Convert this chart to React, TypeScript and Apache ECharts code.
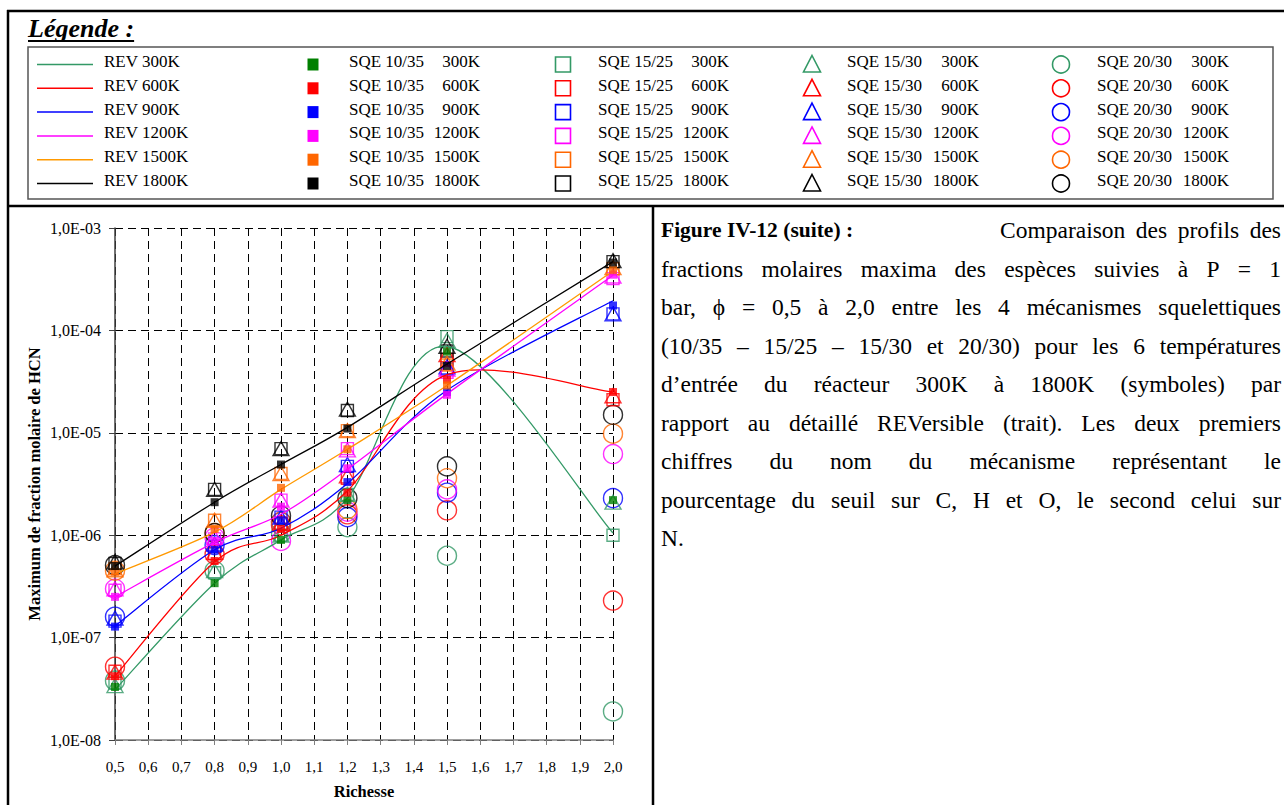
import React, { useEffect, useRef } from "react";
import * as echarts from "echarts";

// ---------- DATA ----------
const richesse = [0.5, 0.8, 1.0, 1.2, 1.5, 2.0];
const temperatures = ["300K", "600K", "900K", "1200K", "1500K", "1800K"];
const mechanisms = ["10/35", "15/25", "15/30", "20/30"];

// REV (detailed mechanism) - lines
const rev300 = [3.1e-8, 3.4e-7, 9.0e-7, 2.3e-6, 7.0e-5, 1.05e-6];
const rev600 = [4.2e-8, 5.5e-7, 1.0e-6, 2.7e-6, 3.7e-5, 2.5e-5];
const rev900 = [1.3e-7, 7.2e-7, 1.17e-6, 3.2e-6, 2.6e-5, 1.95e-4];
const rev1200 = [2.5e-7, 8.5e-7, 1.6e-6, 4.4e-6, 2.4e-5, 3.45e-4];
const rev1500 = [4.2e-7, 1.07e-6, 2.8e-6, 6.9e-6, 2.9e-5, 3.8e-4];
const rev1800 = [5.0e-7, 2.1e-6, 4.9e-6, 1.13e-5, 4.7e-5, 4.7e-4];

// SQE 10/35 - filled squares
const sqe1035_300 = [3.3e-8, 3.4e-7, 9.0e-7, 2.2e-6, 6.2e-5, 2.2e-6];
const sqe1035_600 = [4.2e-8, 5.6e-7, 1.15e-6, 2.6e-6, 3.3e-5, 2.5e-5];
const sqe1035_900 = [1.28e-7, 7.2e-7, 1.4e-6, 3.3e-6, 2.5e-5, 1.75e-4];
const sqe1035_1200 = [2.5e-7, 8.8e-7, 1.9e-6, 4.5e-6, 2.35e-5, 3.5e-4];
const sqe1035_1500 = [4.4e-7, 1.15e-6, 2.9e-6, 6.9e-6, 2.9e-5, 3.9e-4];
const sqe1035_1800 = [5.0e-7, 2.1e-6, 4.9e-6, 1.1e-5, 4.5e-5, 4.6e-4];

// SQE 15/25 - open squares
const sqe1525_300 = [3.6e-8, 4.3e-7, 1.0e-6, 2.5e-6, 8.7e-5, 1.0e-6];
const sqe1525_600 = [4.7e-8, 6.6e-7, 1.3e-6, 3.6e-6, 5.2e-5, 2.1e-5];
const sqe1525_900 = [1.45e-7, 7.8e-7, 1.5e-6, 4.7e-6, 4.2e-5, 1.45e-4];
const sqe1525_1200 = [2.9e-7, 9.2e-7, 2.2e-6, 7.0e-6, 3.9e-5, 3.2e-4];
const sqe1525_1500 = [4.7e-7, 1.4e-6, 4.0e-6, 1.05e-5, 4.6e-5, 4.0e-4];
const sqe1525_1800 = [5.3e-7, 2.8e-6, 7.0e-6, 1.65e-5, 6.3e-5, 4.7e-4];

// SQE 15/30 - open triangles
const sqe1530_300 = [3.4e-8, 4.5e-7, 1.0e-6, 2.5e-6, 8.0e-5, 2.1e-6];
const sqe1530_600 = [4.6e-8, 6.8e-7, 1.3e-6, 3.8e-6, 5.8e-5, 2.3e-5];
const sqe1530_900 = [1.55e-7, 8.2e-7, 1.5e-6, 4.9e-6, 4.4e-5, 1.45e-4];
const sqe1530_1200 = [3.0e-7, 9.5e-7, 2.2e-6, 6.8e-6, 4.2e-5, 3.4e-4];
const sqe1530_1500 = [4.6e-7, 1.4e-6, 4.0e-6, 1.05e-5, 4.8e-5, 4.1e-4];
const sqe1530_1800 = [5.5e-7, 2.8e-6, 7.0e-6, 1.7e-5, 7.0e-5, 4.8e-4];

// SQE 20/30 - open circles
const sqe2030_300 = [3.8e-8, 4.5e-7, 1.05e-6, 1.2e-6, 6.3e-7, 1.9e-8];
const sqe2030_600 = [5.2e-8, 6.5e-7, 1.25e-6, 1.6e-6, 1.75e-6, 2.3e-7];
const sqe2030_900 = [1.6e-7, 8.0e-7, 1.35e-6, 1.5e-6, 2.6e-6, 2.3e-6];
const sqe2030_1200 = [3.0e-7, 9.5e-7, 8.8e-7, 1.7e-6, 2.8e-6, 6.2e-6];
const sqe2030_1500 = [4.5e-7, 1.05e-6, 1.35e-6, 1.8e-6, 3.6e-6, 9.8e-6];
const sqe2030_1800 = [5.1e-7, 1.05e-6, 1.55e-6, 2.3e-6, 4.7e-6, 1.5e-5];

const revSeries = [rev300, rev600, rev900, rev1200, rev1500, rev1800];
const sqe1035 = [sqe1035_300, sqe1035_600, sqe1035_900, sqe1035_1200, sqe1035_1500, sqe1035_1800];
const sqe1525 = [sqe1525_300, sqe1525_600, sqe1525_900, sqe1525_1200, sqe1525_1500, sqe1525_1800];
const sqe1530 = [sqe1530_300, sqe1530_600, sqe1530_900, sqe1530_1200, sqe1530_1500, sqe1530_1800];
const sqe2030 = [sqe2030_300, sqe2030_600, sqe2030_900, sqe2030_1200, sqe2030_1500, sqe2030_1800];

const xAxisTitle = "Richesse";
const yAxisTitle = "Maximum de fraction molaire de HCN";
const legendTitle = "Légende :";

const captionBold = "Figure IV-12 (suite) :";
const captionLines = [
  "Comparaison des profils des",
  "fractions molaires maxima des espèces suivies à P = 1",
  "bar, ϕ = 0,5 à 2,0 entre les 4 mécanismes squelettiques",
  "(10/35 – 15/25 – 15/30 et 20/30) pour les 6 températures",
  "d’entrée du réacteur 300K à 1800K (symboles) par",
  "rapport au détaillé REVersible (trait). Les deux premiers",
  "chiffres du nom du mécanisme représentant le",
  "pourcentage du seuil sur C, H et O, le second celui sur",
  "N.",
];

// ---------- STYLE ----------
const lineColors = ["#339966", "#FF0000", "#0000FF", "#FF00FF", "#FF9900", "#000000"];
const openColors = ["#339966", "#FF0000", "#0000FF", "#FF00FF", "#FF6600", "#000000"];
const filledColors = ["#008000", "#FF0000", "#0000FF", "#FF00FF", "#FF6600", "#000000"];
const SERIF = "'Liberation Serif', 'Times New Roman', serif";

let measureCtx: CanvasRenderingContext2D | null = null;
function textWidth(t: string, font: string) {
  if (!measureCtx) measureCtx = document.createElement("canvas").getContext("2d");
  measureCtx!.font = font;
  return measureCtx!.measureText(t).width;
}

function justified(line: string, font: string, x0: number, x1: number, y: number) {
  const words = line.split(" ");
  const widths = words.map((w) => textWidth(w, font));
  const total = widths.reduce((a, b) => a + b, 0);
  const gap = words.length > 1 ? (x1 - x0 - total) / (words.length - 1) : 0;
  let x = x0;
  return words.map((w, i) => {
    const el = {
      type: "text",
      x,
      y,
      style: { text: w, font, fill: "#000", align: "left", verticalAlign: "middle" },
    };
    x += widths[i] + gap;
    return el;
  });
}

function buildGraphic() {
  const g: any[] = [];
  const frame = { stroke: "#000", lineWidth: 2.5 };
  g.push({ type: "line", shape: { x1: 7, y1: 11, x2: 1284, y2: 11 }, style: frame });
  g.push({ type: "line", shape: { x1: 8, y1: 10, x2: 8, y2: 805 }, style: frame });
  g.push({ type: "line", shape: { x1: 7, y1: 206, x2: 1284, y2: 206 }, style: frame });
  g.push({ type: "line", shape: { x1: 653, y1: 206, x2: 653, y2: 805 }, style: frame });

  const titleFont = `italic bold 26px ${SERIF}`;
  g.push({
    type: "text",
    x: 28,
    y: 28,
    style: { text: legendTitle, font: titleFont, fill: "#000", verticalAlign: "middle" },
  });
  g.push({
    type: "line",
    shape: { x1: 28, y1: 41, x2: 28 + textWidth(legendTitle, titleFont), y2: 41 },
    style: { stroke: "#000", lineWidth: 2 },
  });
  g.push({
    type: "rect",
    shape: { x: 28, y: 47, width: 1245, height: 152 },
    style: { fill: "none", stroke: "#555", lineWidth: 1.5 },
  });

  const legFont = `17px ${SERIF}`;
  const colText = [104, 349, 598, 847, 1097];
  const colRight = [0, 480, 729, 979, 1229];
  const colMarker = [0, 313, 563, 812, 1061];
  for (let i = 0; i < 6; i++) {
    const ty = 61.5 + i * 23.8;
    const my = ty + 3;
    g.push({
      type: "line",
      shape: { x1: 37, y1: my, x2: 93, y2: my },
      style: { stroke: lineColors[i], lineWidth: 1.5 },
    });
    g.push({
      type: "text",
      x: colText[0],
      y: ty,
      style: { text: `REV ${temperatures[i]}`, font: legFont, fill: "#000", verticalAlign: "middle" },
    });
    for (let m = 0; m < 4; m++) {
      const c = m + 1;
      g.push({
        type: "text",
        x: colText[c],
        y: ty,
        style: { text: `SQE ${mechanisms[m]}`, font: legFont, fill: "#000", verticalAlign: "middle" },
      });
      g.push({
        type: "text",
        x: colRight[c],
        y: ty,
        style: { text: temperatures[i], font: legFont, fill: "#000", align: "right", verticalAlign: "middle" },
      });
      const cx = colMarker[c];
      if (m === 0) {
        g.push({
          type: "rect",
          shape: { x: cx - 5.5, y: my - 6, width: 11, height: 12 },
          style: { fill: filledColors[i], stroke: "none" },
        });
      } else if (m === 1) {
        g.push({
          type: "rect",
          shape: { x: cx - 7.5, y: my - 7.5, width: 15, height: 15 },
          style: { fill: "none", stroke: openColors[i], lineWidth: 1.6 },
        });
      } else if (m === 2) {
        g.push({
          type: "polygon",
          shape: { points: [[cx, my - 9], [cx + 8.5, my + 7.5], [cx - 8.5, my + 7.5]] },
          style: { fill: "none", stroke: openColors[i], lineWidth: 1.6 },
        });
      } else {
        g.push({
          type: "circle",
          shape: { cx, cy: my, r: 8.5 },
          style: { fill: "none", stroke: openColors[i], lineWidth: 1.6 },
        });
      }
    }
  }

  const capFont = `23.5px ${SERIF}`;
  const capBold = `bold 21.5px ${SERIF}`;
  const x0 = 661;
  const x1 = 1281;
  const lineY = (k: number) => 230 + k * 38.5;
  g.push({
    type: "text",
    x: x0,
    y: lineY(0),
    style: { text: captionBold, font: capBold, fill: "#000", verticalAlign: "middle" },
  });
  g.push(...justified(captionLines[0], capFont, 1000, x1, lineY(0)));
  for (let k = 1; k < captionLines.length - 1; k++) {
    g.push(...justified(captionLines[k], capFont, x0, x1, lineY(k)));
  }
  g.push({
    type: "text",
    x: x0,
    y: lineY(captionLines.length - 1),
    style: { text: captionLines[captionLines.length - 1], font: capFont, fill: "#000", verticalAlign: "middle" },
  });
  return g;
}

function pairs(vals: number[]) {
  return richesse.map((x, i) => [x, vals[i]]);
}

// Excel-like smoothed curve (Catmull-Rom) drawn through the library's coordinate system
function revCurve(i: number) {
  const data = pairs(revSeries[i]);
  return {
    name: `REV ${temperatures[i]}`,
    type: "custom",
    coordinateSystem: "cartesian2d",
    data,
    encode: { x: 0, y: 1 },
    z: 4,
    renderItem: (params: any, api: any) => {
      if (params.dataIndex !== 0) return null;
      const pts = data.map((d) => api.coord(d));
      let d = `M${pts[0][0]},${pts[0][1]}`;
      for (let k = 0; k < pts.length - 1; k++) {
        const p0 = pts[Math.max(k - 1, 0)];
        const p1 = pts[k];
        const p2 = pts[k + 1];
        const p3 = pts[Math.min(k + 2, pts.length - 1)];
        const c1 = [p1[0] + (p2[0] - p0[0]) / 6, p1[1] + (p2[1] - p0[1]) / 6];
        const c2 = [p2[0] - (p3[0] - p1[0]) / 6, p2[1] - (p3[1] - p1[1]) / 6];
        d += ` C${c1[0]},${c1[1]} ${c2[0]},${c2[1]} ${p2[0]},${p2[1]}`;
      }
      return {
        type: "path",
        shape: { pathData: d },
        style: { stroke: lineColors[i], fill: "none", lineWidth: 1.3 },
      };
    },
  };
}

function buildSeries() {
  const s: any[] = [];
  for (let i = 0; i < 6; i++) {
    s.push({
      name: `SQE 20/30 ${temperatures[i]}`,
      type: "scatter",
      data: pairs(sqe2030[i]),
      symbol: "circle",
      symbolSize: 19,
      itemStyle: { color: "rgba(0,0,0,0)", borderColor: openColors[i], borderWidth: 1.4 },
      z: 3,
    });
  }
  for (let i = 0; i < 6; i++) {
    s.push({
      name: `SQE 15/25 ${temperatures[i]}`,
      type: "scatter",
      data: pairs(sqe1525[i]),
      symbol: "rect",
      symbolSize: 12,
      itemStyle: { color: "rgba(0,0,0,0)", borderColor: openColors[i], borderWidth: 1.4 },
      z: 3,
    });
  }
  for (let i = 0; i < 6; i++) {
    s.push({
      name: `SQE 15/30 ${temperatures[i]}`,
      type: "scatter",
      data: pairs(sqe1530[i]),
      symbol: "triangle",
      symbolSize: [16, 14],
      itemStyle: { color: "rgba(0,0,0,0)", borderColor: openColors[i], borderWidth: 1.4 },
      z: 3,
    });
  }
  for (let i = 0; i < 6; i++) s.push(revCurve(i));
  for (let i = 0; i < 6; i++) {
    s.push({
      name: `SQE 10/35 ${temperatures[i]}`,
      type: "scatter",
      data: pairs(sqe1035[i]),
      symbol: "rect",
      symbolSize: 8,
      itemStyle: { color: filledColors[i] },
      z: 5,
    });
  }
  return s;
}

export default function App() {
  const ref = useRef<HTMLDivElement>(null);
  useEffect(() => {
    if (!ref.current) return;
    const chart = echarts.init(ref.current, null, { renderer: "svg" });
    chart.setOption({
      animation: false,
      backgroundColor: "#ffffff",
      grid: { left: 115, top: 228, width: 498, height: 520, containLabel: false },
      xAxis: {
        type: "value",
        min: 0.5,
        max: 2.0,
        interval: 0.1,
        name: xAxisTitle,
        nameLocation: "middle",
        nameGap: 43,
        nameTextStyle: { fontFamily: SERIF, fontSize: 16.5, fontWeight: "bold", color: "#000" },
        axisLine: { show: true, onZero: false, lineStyle: { color: "#808080", width: 1.5 } },
        axisTick: { show: true, inside: false, length: 5, lineStyle: { color: "#808080" } },
        axisLabel: {
          fontFamily: SERIF,
          fontSize: 15,
          color: "#000",
          margin: 19,
          formatter: (v: number) => v.toFixed(1).replace(".", ","),
        },
        splitLine: { show: true, lineStyle: { color: "#000", type: [8, 5], width: 1 } },
      },
      yAxis: {
        type: "log",
        logBase: 10,
        min: 1e-8,
        max: 1e-3,
        name: yAxisTitle,
        nameLocation: "middle",
        nameRotate: 90,
        nameGap: 72,
        nameTextStyle: { fontFamily: SERIF, fontSize: 16.5, fontWeight: "bold", color: "#000" },
        axisLine: { show: true, lineStyle: { color: "#404040", width: 1.5 } },
        axisTick: { show: true, inside: false, length: 6, lineStyle: { color: "#404040" } },
        minorTick: { show: false },
        axisLabel: {
          fontFamily: SERIF,
          fontSize: 16,
          color: "#000",
          margin: 14,
          formatter: (v: number) => {
            const e = Math.round(Math.log10(v));
            return "1,0E-" + String(-e).padStart(2, "0");
          },
        },
        splitLine: { show: true, lineStyle: { color: "#000", type: [8, 5], width: 1 } },
      },
      series: buildSeries(),
      graphic: buildGraphic(),
    });
    return () => chart.dispose();
  }, []);
  return (
    <div
      ref={ref}
      style={{ position: "fixed", left: 0, top: 0, width: 1284, height: 805, background: "#fff" }}
    />
  );
}
